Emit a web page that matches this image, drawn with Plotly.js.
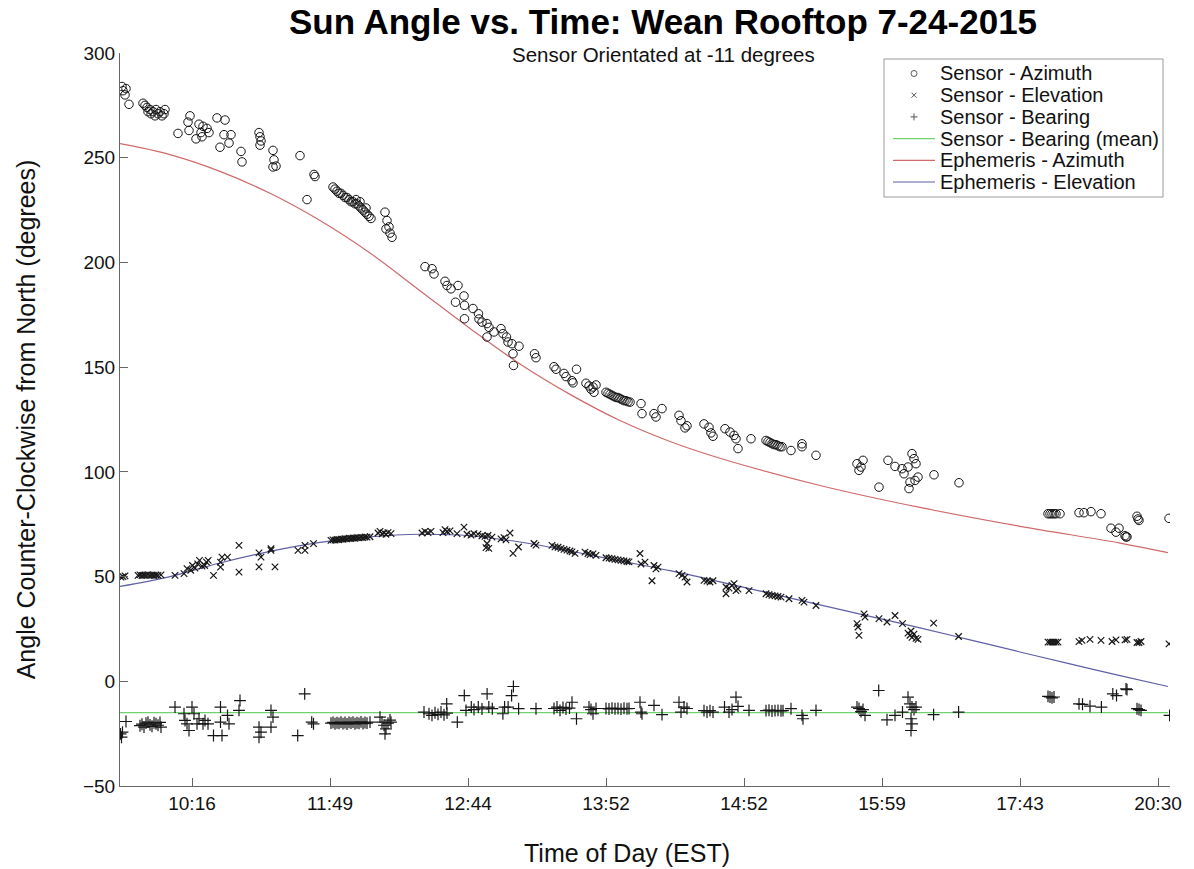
<!DOCTYPE html>
<html>
<head>
<meta charset="utf-8">
<script src="https://cdn.plot.ly/plotly-3.0.1.min.js"></script>
<style>
  html, body { margin: 0; padding: 0; background: #ffffff; }
  #chart { width: 1194px; height: 869px; }
</style>
</head>
<body>
<div id="chart"></div>
<script>
// Sample index along the day; tick labels give the clock time at those samples.
const timeTickIdx = [72, 210, 348, 486, 624, 762, 900, 1038];
const timeTickText = ['10:16', '11:49', '12:44', '13:52', '14:52', '15:59', '17:43', '20:30'];

// Sensor azimuth readings [sample, degrees]
const sensorAzimuth = [
  [2,284],[3,282],[5,280],[6,283],[9,275.5],
  [23,276],[25,275],[27,274],[28,272],[30,273],[31,271],[33,272],[35,270],[36,273],[38,271],[40,272],[42,270],[44,271],[45,273],
  [58,261.6],[68,267],[69,263],[70,270],[76,259],[79,266],[81,262],[82,260],[83,265],[87,264],[89,262],
  [97,269],[100,255],[104,261],[105,268],[109,257],[111,261],
  [121,253],[122,248],[139,262],[140,256],[140,260],[141,258],
  [153,253.5],[153,245.6],[154,249],[156,246],
  [180,251],[187,230],[194,242],[195,241],
  [213,236],[215,235],[217,234],[219,233],[221,233],[223,232],[225,231],[227,231],[229,230],[231,229],[233,229],[235,228],[236,230],[237,228],[239,227],[240,229],[241,226],[243,225],[245,224],[246,226],[247,223],[249,222],[251,221],
  [265,224],[266,216],[267,220],[269,217],[270,214],[272,212],
  [305,198],[312,197],[314,194.5],[325,191],[327,189],[331,187.4],[338,189],[344,184],
  [335.5,181],[344.5,179.5],[344.5,173.1],[353,178],[358.5,175.5],[359,173],[362,171.5],[367,170.8],[367,164.4],[369,169],[374,166.8],[381,168.4],[383,166],[386.5,164.4],[388,162],[392,161.2],[393,156.4],[393.5,150.8],[399,160],
  [414.5,156.4],[416,154.5],
  [434,150.2],[436,149],[444,147],[446,145.5],[452,143.5],[453,142.5],[456.5,149],
  [466,142.3],[469,141],[471,139.5],[473,140.5],[474,138],[476,141.5],
  [486,138],[488,137.5],[490,137],[492,136.5],[494,136],[496,135.5],[498,135.5],[500,135],[502,134.5],[504,134],[506,134],[508,133.5],[510,133.3],
  [521,132.6],[522,127.8],[534,127.8],[536,126.2],[542,130.2],
  [559,127],[561,124.4],[565,121],[567,122],
  [584,122.9],[589,121.3],[591,118.6],[593,117],
  [605,120.6],[610,119],[614,117.4],[616,115.8],[618,111.1],[631,115.8],
  [646,115],[648,114.5],[650,114],[652,113.5],[654,113],[656,113],[658,112.5],[660,112],[662,112],
  [671,110.2],[682,113.4],[682,112],[696,107.9],
  [737,103.9],[739,100.7],[741,102.3],[743,105.5],[759,92.7],
  [768,105.5],[775,102.6],[782,101.5],[784,99.1],[788,102.3],[789,92],[790,95.1],[792,108.7],[794,106.3],[795,95.9],[796,103.9],[798,97.5],
  [814,98.6],[839,94.8],
  [928,80],[930,80],[932,80],[934,80],[936,80],[940,80],
  [959,80.5],[964,80.5],[971,81],[981,80],
  [991,73.1],[996,71.2],[999,73.1],[1005,69.5],[1006,68.9],[1007,69],
  [1017,78.8],[1018,77.5],[1019,76.8],[1049,77.8]
];

// Sensor elevation readings [sample, degrees]
const sensorElevation = [
  [1,49.7],[3,50],[5,50.3],
  [18,50.6],[20,50.8],[22,50.5],[24,50.7],[26,50.6],[28,50.9],[30,50.6],[32,50.8],[34,50.5],[36,50.7],[38,50.6],[41,50.8],
  [55,50.6],[64,51.4],[67,53.8],[70.7,53],[72.5,55.3],[75,54],[77.7,56.1],[79.5,57.7],[82,55],[84.7,55.3],[86.5,56.9],[88.2,57.7],
  [93.5,50.6],[100.5,56.9],[102,59.3],[100.5,54.5],[107.5,59.3],
  [119,64.9],[119,52.1],
  [139,61.3],[139,54.6],[141,59.3],[151,63.3],[151,62.5],[155,54.6],
  [178,62.5],[185,64.9],[185,62.5],[193.5,65.7],
  [211,67.3],[213,67.5],[215,67.4],[217,67.7],[219,67.6],[221,67.9],[223,67.8],[225,68.1],[227,68],[229,68.3],[231,68.2],[233,68.4],[235,68.3],[237,68.6],[239,68.5],[241,68.7],[243,68.6],[245,68.9],[247,68.8],[250,69],
  [258,70.8],[260,71.6],[262,70.4],[264,70.9],[266,70.2],[268,71],[271,70.5],
  [302,70.8],[305,71.6],[308,71],[311,71.6],
  [323,71],[325,72.4],[327,71.5],[330,71.8],
  [337,70.5],[344,73.6],[347,70.2],[351,69.8],[354,70.5],[358,70.3],[362,69.5],[365,69.2],[368,69.6],[372,68.8],
  [366,63.8],[367,65.8],[368.8,63.5],
  [381,68],[384,68.6],[386,67.5],[390,70.8],[393,61.1],[398.5,64.1],
  [414,65.8],[416,65],
  [432,64.9],[435,64.2],[438,64],[441,63.5],[444,63],[447,62.6],[450,62.2],[452,61.8],[455,61.1],
  [465,61.7],[468,61],[470,60.5],[473,60.8],[476,60.1],
  [486,59],[489,58.8],[492,58.5],[495,58.2],[498,58],[501,57.7],[504,57.5],[507,57.2],[509,57],
  [520,61],[521,56],[525,56.9],[532,48],[534,55.3],[536,53.7],[538,54.5],
  [559,51.4],[562,50.6],[565,49.7],[567,47.4],
  [584,48.2],[587,47.8],[590,47.4],[593,48],
  [606,45],[606,41.8],[609,44.5],[612,45.8],[614,46.6],[616,43.3],[618,44],
  [629,43.3],
  [646,41.8],[649,41.4],[652,41],[655,40.8],[658,40.5],[661,40.2],
  [669,39.4],[682,38.6],[684,37.8],[696,36.2],
  [737,27.5],[738,25.9],[739,21.9],[744,32.2],[745,30.6],
  [759,29.9],[767,28.3],[775,31.4],[782.5,27.5],
  [788,23],[790,22],[791,24],[792,21],[794,22.5],[796,20.5],[798,20],
  [813.6,27.8],[838.6,21.4],
  [928,18.7],[930,18.7],[932,18.7],[934,18.7],[936,18.7],[938,18.7],
  [959,18.9],[962,19.5],[970,20],[981,19.5],[992,19],[996,19.8],[1005,19.8],[1007,20],[1017,18.5],[1019,18.5],[1021,19],
  [1049,17.9]
];

// Sensor bearing readings [sample, degrees]
const sensorBearing = [
  [0.5,-25.1],[1.5,-26.7],[2.5,-24.3],[6,-19.2],
  [20,-21.2],[22,-20.5],[24,-21.9],[26,-20],[28,-19.5],[30,-20.8],[32,-21.5],[34,-19.8],[36,-20.3],[38,-21],[40,-19.6],[41,-21.9],
  [55,-12.3],[64,-15.5],[65,-18.7],[67,-20.3],[69,-23.5],[72,-12.3],[74,-15.5],[77,-20.3],[79,-17.9],[83,-20.3],[85,-18.7],[88,-20.3],
  [93.5,-25.9],[102,-25.9],[100.5,-12.3],[100.5,-19.5],[107.5,-16.3],[109,-20.3],
  [120,-9.2],[119,-13.9],
  [139,-21.9],[139,-26.7],[141,-24.3],[151,-13.9],[151,-21.9],[153,-17.1],
  [177.7,-25.9],[184.7,-6],[191.7,-19.5],[193.5,-20.3],
  [211,-20],[213,-19.6],[215,-20.3],[217,-19.8],[219,-20.1],[221,-19.5],[223,-20.2],[225,-19.7],[227,-20.4],[229,-19.6],[231,-20],[233,-19.5],[235,-20.3],[237,-19.8],[239,-20.1],[241,-19.4],[243,-20.2],[245,-19.7],[247,-20],[250,-19.5],
  [260,-17.1],[262,-19.5],[264,-21],[265,-25.1],[266,-22.7],[268,-20],[270,-18.5],[271,-19.5],
  [304,-14.7],[309,-15.5],[312,-16.3],[315,-15],[318,-15.8],[321,-14.7],[324,-16],[327,-15.2],
  [326.7,-10.8],[337.3,-19.5],[344.3,-6.8],[346,-13.9],[351.3,-12.3],[354,-13.5],[358.3,-12.3],[362,-13.2],[367.1,-6],[368.8,-12.3],[372.3,-13.1],[382.9,-15.5],[384.6,-12.3],[388.1,-12.3],[391.6,-6.8],[393.4,-2.5],[398.6,-13.1],
  [416,-13.1],
  [434,-13],[437,-12.3],[440,-13.9],[443,-12.5],[446,-13.2],[449.5,-12.8],[452,-10],[456.5,-17.9],
  [469,-12.3],[471,-13.5],[473,-15.5],[476,-13],
  [486,-13],[489,-13.2],[492,-12.8],[495,-13.1],[498,-13],[501,-13.3],[504,-12.9],[507,-13.1],[509,-13],
  [520,-10],[521,-14.7],[522,-15.5],[534,-11.5],[542,-15.9],
  [559,-10],[561,-14.7],[564,-12.3],[567,-13],
  [584,-14],[587,-14.7],[590,-14],[593,-14.7],
  [604.5,-12.3],[609,-14.7],[612,-13.5],[616,-7.6],[618,-12],
  [629,-13.9],
  [646,-14],[649,-13.8],[652,-14.2],[655,-14],[658,-13.9],[661,-14.1],[663,-14],
  [671,-13.1],[682,-16.3],[683,-17.9],[696,-13.9],
  [737,-12.3],[739,-13],[741,-14.5],[743,-13.5],[745,-16.3],
  [758.7,-4.4],[767,-18.4],[775,-16.3],[782.5,-14.7],
  [788,-7.6],[790,-10.8],[791,-17.9],[791,-23.5],[792,-12.3],[792,-20.3],[794,-13.5],[796,-12.3],
  [813.6,-15.9],[838.6,-14.7],
  [928,-7.2],[930,-7.5],[932,-7.9],[934,-7.5],
  [959,-10.8],[962.5,-11],[970,-11.9],[981.4,-12.3],
  [992.8,-6],[996.5,-6.8],[1006,-3.6],[1007,-4],
  [1017,-13.1],[1019,-13.5],[1021,-13.9],
  [1049.6,-16.3]
];

// Mean of the sensor bearing, drawn across the whole run
const bearingMean = -15;
const bearingMeanSpan = [0, 1048];

// Ephemeris solar position along the same samples
const ephemerisIdx = [0, 50, 100, 150, 200, 250, 300, 350, 400, 450, 500, 550, 600, 700, 800, 900, 1000, 1048];
const ephemerisAzimuth = [256.7, 251.5, 243.5, 233, 220, 204.5, 186.5, 168.5, 151.5, 137, 124.5, 114.5, 106.5, 93.5, 83, 74, 66, 61.4];
const ephemerisElevIdx = [0, 50, 100, 150, 200, 250, 300, 350, 400, 450, 500, 550, 600, 650, 700, 750, 800, 850, 900, 950, 1000, 1048];
const ephemerisElevation = [45.3, 50, 56.5, 62, 66.3, 69, 70.2, 69.5, 66.5, 62.2, 57.5, 52.8, 47.5, 42, 36.5, 31, 25.5, 19.8, 14, 8.3, 2.7, -2.5];

const legendLabels = ['Sensor - Azimuth', 'Sensor - Elevation', 'Sensor - Bearing',
  'Sensor - Bearing (mean)', 'Ephemeris - Azimuth', 'Ephemeris - Elevation'];

const FONT = 'Liberation Sans, Arial, Helvetica, sans-serif';
const INK = '#161616';
const RED = '#cf6a6a';
const BLUE = '#5f5fa6';
const GREEN = '#6fd26f';

const traces = [
  {
    type: 'scatter', mode: 'lines', name: legendLabels[4],
    x: ephemerisIdx, y: ephemerisAzimuth,
    line: { color: RED, width: 1.2, shape: 'spline', smoothing: 1 }
  },
  {
    type: 'scatter', mode: 'lines', name: legendLabels[5],
    x: ephemerisElevIdx, y: ephemerisElevation,
    line: { color: BLUE, width: 1.2, shape: 'spline', smoothing: 1 }
  },
  {
    type: 'scatter', mode: 'lines', name: legendLabels[3],
    x: bearingMeanSpan, y: bearingMeanSpan.map(() => bearingMean),
    line: { color: GREEN, width: 1.2 }
  },
  {
    type: 'scatter', mode: 'markers', name: legendLabels[0],
    x: sensorAzimuth.map(p => p[0]), y: sensorAzimuth.map(p => p[1]),
    marker: { symbol: 'circle-open', size: 8.5, color: INK, line: { width: 1, color: INK } }
  },
  {
    type: 'scatter', mode: 'markers', name: legendLabels[1],
    x: sensorElevation.map(p => p[0]), y: sensorElevation.map(p => p[1]),
    marker: { symbol: 'x-thin-open', size: 6.5, color: INK, line: { width: 1.2, color: INK } }
  },
  {
    type: 'scatter', mode: 'markers', name: legendLabels[2],
    x: sensorBearing.map(p => p[0]), y: sensorBearing.map(p => p[1]),
    marker: { symbol: 'cross-thin-open', size: 8.5, color: INK, line: { width: 1.2, color: INK } }
  }
];

// Plot box in pixels, used to lay out the boxed key in the upper right
const BOX = { left: 120, top: 53, width: 1050, height: 733 };
const px = v => (v - BOX.left) / BOX.width;
const py = v => (BOX.top + BOX.height - v) / BOX.height;

const keyLeft = 884, keyRight = 1163, keyTop = 59, keyBottom = 197;
const keyRow0 = 73.5, keyRowStep = 21.7, keySymX = 914, keyTextX = 938;
const keyKinds = ['circle', 'x', 'plus', GREEN, RED, BLUE];

const shapes = [{
  type: 'rect', xref: 'paper', yref: 'paper', layer: 'above',
  x0: px(keyLeft), x1: px(keyRight), y0: py(keyBottom), y1: py(keyTop),
  line: { color: '#9a9a9a', width: 1 }, fillcolor: '#ffffff'
}];
const annotations = [{
  text: 'Sensor Orientated at -11 degrees', xref: 'paper', yref: 'paper',
  x: px(663), y: py(54), xanchor: 'center', yanchor: 'middle', showarrow: false,
  font: { family: FONT, size: 20.5, color: '#111' }
}, {
  text: 'Time of Day (EST)', xref: 'paper', yref: 'paper',
  x: px(627), y: py(853), xanchor: 'center', yanchor: 'middle', showarrow: false,
  font: { family: FONT, size: 25, color: '#111' }
}];

keyKinds.forEach((kind, i) => {
  const cy = keyRow0 + i * keyRowStep;
  const seg = (x0, y0, x1, y1) => `M${px(x0)},${py(y0)} L${px(x1)},${py(y1)}`;
  if (kind === 'circle') {
    shapes.push({ type: 'circle', xref: 'paper', yref: 'paper', layer: 'above',
      x0: px(keySymX - 3), x1: px(keySymX + 3), y0: py(cy + 3), y1: py(cy - 3),
      line: { color: '#555', width: 1 } });
  } else if (kind === 'x') {
    shapes.push({ type: 'path', xref: 'paper', yref: 'paper', layer: 'above',
      path: seg(keySymX - 2.5, cy - 2.5, keySymX + 2.5, cy + 2.5) + ' ' + seg(keySymX - 2.5, cy + 2.5, keySymX + 2.5, cy - 2.5),
      line: { color: '#555', width: 1 } });
  } else if (kind === 'plus') {
    shapes.push({ type: 'path', xref: 'paper', yref: 'paper', layer: 'above',
      path: seg(keySymX - 3.5, cy, keySymX + 3.5, cy) + ' ' + seg(keySymX, cy - 3.5, keySymX, cy + 3.5),
      line: { color: '#555', width: 1 } });
  } else {
    shapes.push({ type: 'line', xref: 'paper', yref: 'paper', layer: 'above',
      x0: px(893), x1: px(935), y0: py(cy), y1: py(cy),
      line: { color: kind, width: 1.2 } });
  }
  annotations.push({
    text: legendLabels[i], xref: 'paper', yref: 'paper',
    x: px(keyTextX), y: py(cy), xanchor: 'left', yanchor: 'middle', showarrow: false,
    font: { family: FONT, size: 20, color: '#111' }
  });
});

const layout = {
  width: 1194, height: 869,
  paper_bgcolor: '#ffffff', plot_bgcolor: '#ffffff',
  margin: { l: BOX.left, r: 1194 - BOX.left - BOX.width, t: BOX.top, b: 869 - BOX.top - BOX.height, pad: 0 },
  showlegend: false,
  font: { family: FONT, color: '#111' },
  title: {
    text: 'Sun Angle vs. Time: Wean Rooftop 7-24-2015',
    font: { family: FONT, size: 35, color: '#000', weight: 'bold' },
    xref: 'container', yref: 'container', x: 663 / 1194, y: 1 - 22 / 869,
    xanchor: 'center', yanchor: 'middle'
  },
  xaxis: {
    range: [0, 1050], tickmode: 'array', tickvals: timeTickIdx, ticktext: timeTickText,
    ticks: 'inside', ticklen: 8, tickcolor: '#666', tickwidth: 1,
    showline: true, linecolor: '#666', linewidth: 1, showgrid: false, zeroline: false,
    tickfont: { family: FONT, size: 19, color: '#111' }
  },
  yaxis: {
    range: [-50, 300], tickmode: 'linear', tick0: 0, dtick: 50,
    ticks: 'inside', ticklen: 8, tickcolor: '#666', tickwidth: 1,
    showline: true, linecolor: '#666', linewidth: 1, showgrid: false, zeroline: false,
    tickfont: { family: FONT, size: 19, color: '#111' },
    title: { text: 'Angle Counter-Clockwise from North (degrees)', font: { family: FONT, size: 25, color: '#111' }, standoff: 40 }
  },
  shapes: shapes,
  annotations: annotations
};

Plotly.newPlot('chart', traces, layout, { staticPlot: true, displayModeBar: false });
</script>
</body>
</html>
